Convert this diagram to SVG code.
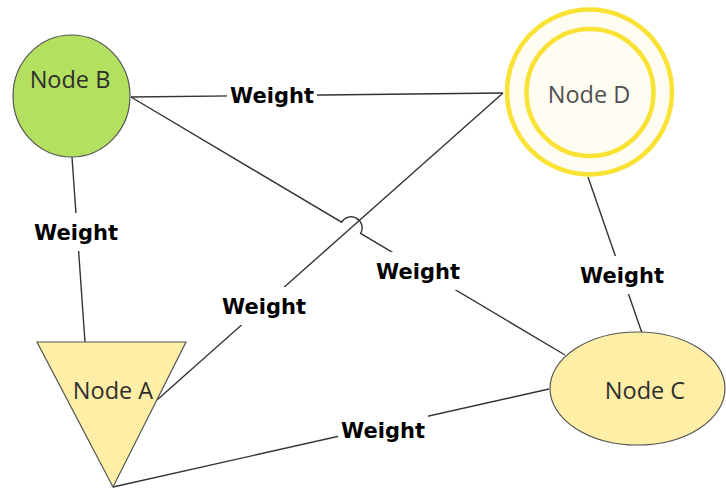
<svg xmlns="http://www.w3.org/2000/svg" width="726" height="490" viewBox="0 0 726 490">
  <style>
    .edge { fill: none; stroke: #333333; stroke-width: 1.4; }
    .lbl-bg { fill: #ffffff; }
    .lbl { font-family: "DejaVu Sans", Verdana, sans-serif; font-weight: bold; font-size: 21px; fill: #000000; text-anchor: middle; }
    .ntext { font-family: "Open Sans", "DejaVu Sans", sans-serif; font-size: 23.5px; fill: #2e2e2e; text-anchor: middle; }
    .shape { stroke: #555555; stroke-width: 1.2; }
  </style>
  <rect width="726" height="490" fill="#ffffff"/>

  <!-- connectors -->
  <g id="edges">
    <!-- B to D -->
    <line class="edge" x1="131" y1="97" x2="503" y2="93"/>
    <!-- B to C, hopping over the A-D line -->
    <path class="edge" d="M131 97 L341.6 222.2 A11 11 0 0 1 360.6 233.4 L565 355"/>
    <!-- A to D -->
    <line class="edge" x1="157" y1="400" x2="503" y2="93"/>
    <!-- B to A -->
    <line class="edge" x1="72" y1="157" x2="85" y2="342"/>
    <!-- D to C -->
    <line class="edge" x1="588" y1="177" x2="642" y2="333"/>
    <!-- A to C -->
    <line class="edge" x1="113" y1="487" x2="549" y2="389"/>

    <!-- edge labels -->
    <g id="label-bd"><rect class="lbl-bg" x="227" y="76" width="90" height="38"/><text class="lbl" x="272" y="103">Weight</text></g>
    <g id="label-ba"><rect class="lbl-bg" x="31" y="213" width="90" height="38"/><text class="lbl" x="76" y="240">Weight</text></g>
    <g id="label-ad"><rect class="lbl-bg" x="219" y="287" width="90" height="38"/><text class="lbl" x="264" y="314">Weight</text></g>
    <g id="label-bc"><rect class="lbl-bg" x="373" y="252" width="90" height="38"/><text class="lbl" x="418" y="279">Weight</text></g>
    <g id="label-dc"><rect class="lbl-bg" x="577" y="256" width="90" height="38"/><text class="lbl" x="622" y="283">Weight</text></g>
    <g id="label-ac"><rect class="lbl-bg" x="338" y="411" width="90" height="38"/><text class="lbl" x="383" y="438">Weight</text></g>
  </g>

  <!-- nodes -->
  <g id="node-b">
    <ellipse class="shape" cx="71.5" cy="96" rx="58.5" ry="61" fill="#b3e05e"/>
    <text class="ntext" x="70" y="88">Node B</text>
  </g>
  <g id="node-d">
    <circle cx="589.5" cy="92" r="82.5" fill="#fffcf1" stroke="#fae234" stroke-width="4.5"/>
    <circle cx="590" cy="92.5" r="63.5" fill="#fffcf1" stroke="#fae234" stroke-width="4.5"/>
    <text class="ntext" x="589" y="103" style="fill:#505050">Node D</text>
  </g>
  <g id="node-a">
    <polygon class="shape" points="37,342 186,342 113,487" fill="#ffefa6"/>
    <text class="ntext" x="113" y="399">Node A</text>
  </g>
  <g id="node-c">
    <ellipse class="shape" cx="637.5" cy="388.5" rx="87.5" ry="56.5" fill="#ffefa6"/>
    <text class="ntext" x="645" y="399">Node C</text>
  </g>
</svg>
